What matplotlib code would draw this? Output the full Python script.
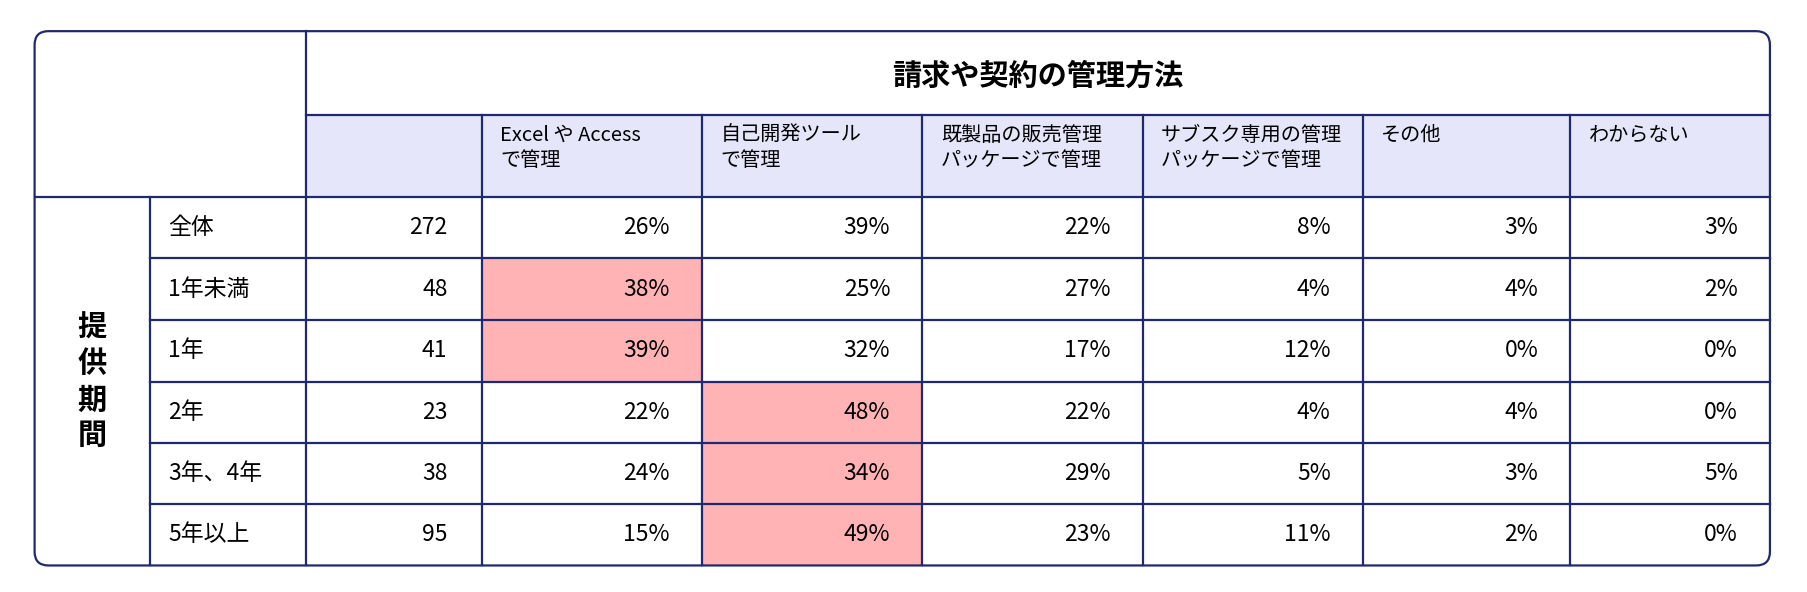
import matplotlib
matplotlib.use("Agg")
import matplotlib.pyplot as plt
from matplotlib.patches import FancyBboxPatch, Rectangle

plt.rcParams["font.family"] = "Noto Sans CJK JP"

TITLE = "請求や契約の管理方法"
GROUP = "提供期間"
COLUMNS = ["", "Excel や Access\nで管理", "自己開発ツール\nで管理", "既製品の販売管理\nパッケージで管理",
           "サブスク専用の管理\nパッケージで管理", "その他", "わからない"]
ROWS = ["全体", "1年未満", "1年", "2年", "3年、4年", "5年以上"]
COUNTS = [272, 48, 41, 23, 38, 95]
PCTS = [
    [26, 39, 22, 8, 3, 3],
    [38, 25, 27, 4, 4, 2],
    [39, 32, 17, 12, 0, 0],
    [22, 48, 22, 4, 4, 0],
    [24, 34, 29, 5, 3, 5],
    [15, 49, 23, 11, 2, 0],
]
HIGHLIGHT = [(1, 0), (2, 0), (3, 1), (4, 1), (5, 1)]

NAVY = "#1f2a6e"
PINK = "#ffb3b5"
LAV = "#e6e6fa"

W, H = 1568, 513
fig = plt.figure(figsize=(18.08, 5.92), dpi=100)
ax = fig.add_axes([0, 0, 1, 1])
ax.set_xlim(0, W)
ax.set_ylim(H, 0)
ax.axis("off")

xs = [30, 130, 265, 418, 609, 800, 991, 1182, 1362, 1535]
top, mid, hb = 27, 100, 171
ys = [171, 224, 277, 331, 384, 437, 490]
lw = 1.6

ax.add_patch(Rectangle((xs[2], mid), xs[-1] - xs[2], hb - mid, color=LAV, lw=0))
for r, c in HIGHLIGHT:
    ax.add_patch(Rectangle((xs[3 + c], ys[r]), xs[4 + c] - xs[3 + c], ys[r + 1] - ys[r], color=PINK, lw=0))

ax.add_patch(FancyBboxPatch((xs[0], top), xs[-1] - xs[0], ys[-1] - top,
                            boxstyle="round,pad=0,rounding_size=12", fill=False, ec=NAVY, lw=lw))
ax.plot([xs[2], xs[-1]], [mid, mid], color=NAVY, lw=lw)
ax.plot([xs[0], xs[-1]], [hb, hb], color=NAVY, lw=lw)
for y in ys[1:-1]:
    ax.plot([xs[1], xs[-1]], [y, y], color=NAVY, lw=lw)
ax.plot([xs[1], xs[1]], [hb, ys[-1]], color=NAVY, lw=lw)
ax.plot([xs[2], xs[2]], [top, ys[-1]], color=NAVY, lw=lw)
for x in xs[3:-1]:
    ax.plot([x, x], [mid, ys[-1]], color=NAVY, lw=lw)

ax.text((xs[2] + xs[-1]) / 2, 66, TITLE, ha="center", va="center", fontsize=21, fontweight="bold")
for i, lab in enumerate(COLUMNS):
    if lab:
        ax.text(xs[2 + i] + 16, 108, lab, ha="left", va="top", fontsize=14.5, linespacing=1.3)

ax.text(80, (ys[0] + ys[-1]) / 2, "\n".join(GROUP), ha="center", va="center",
        fontsize=21, fontweight="bold", linespacing=1.25)

for r, name in enumerate(ROWS):
    yc = (ys[r] + ys[r + 1]) / 2
    ax.text(xs[1] + 16, yc, name, ha="left", va="center", fontsize=16.5)
    ax.text(xs[3] - 30, yc, str(COUNTS[r]), ha="right", va="center", fontsize=16.5)
    for c, v in enumerate(PCTS[r]):
        ax.text(xs[4 + c] - 28, yc, f"{v}%", ha="right", va="center", fontsize=16.5)

fig.savefig("out.png", dpi=100, facecolor="white")
